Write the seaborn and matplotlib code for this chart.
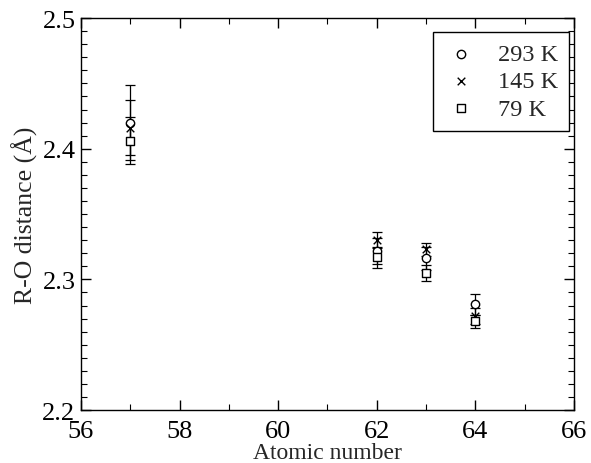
import numpy as np
import pandas as pd
import matplotlib
matplotlib.use("Agg")
import matplotlib.pyplot as plt
import seaborn as sns

# Data
atomic_number = [57, 62, 63, 64]
r_293 = [2.420, 2.322, 2.316, 2.281]
e_293 = [0.029, 0.010, 0.009, 0.008]
r_145 = [2.416, 2.330, 2.323, 2.272]
e_145 = [0.021, 0.006, 0.005, 0.006]
r_79 = [2.406, 2.317, 2.305, 2.268]
e_79 = [0.018, 0.008, 0.006, 0.005]
labels = ["293 K", "145 K", "79 K"]

sns.set_style("ticks")
plt.rcParams['font.family'] = ['Liberation Serif', 'DejaVu Serif']

rows = []
for lab, vals, errs in zip(labels, [r_293, r_145, r_79], [e_293, e_145, e_79]):
    for x, v, e in zip(atomic_number, vals, errs):
        rows.append({"Z": x, "R": v, "err": e, "T": lab})
df = pd.DataFrame(rows)

fig = plt.figure(figsize=(5.91, 4.64), dpi=100)
ax = fig.add_axes([0.137, 0.114, 0.834, 0.845])

for lab in labels:
    g = df[df["T"] == lab]
    ax.errorbar(g["Z"], g["R"], yerr=g["err"], fmt="none", ecolor="black",
                elinewidth=0.9, capsize=3.5, capthick=0.9, zorder=2)

markers = {"293 K": "o", "145 K": "x", "79 K": "s"}
for lab in labels:
    g = df[df["T"] == lab]
    m = markers[lab]
    if m == "x":
        sns.scatterplot(data=g, x="Z", y="R", marker="x", s=30, color="black",
                        linewidth=1.0, ax=ax, zorder=3, label=lab)
    else:
        sns.scatterplot(data=g, x="Z", y="R", marker=m, s=36, facecolor="white",
                        edgecolor="black", linewidth=1.0, ax=ax, zorder=3,
                        label=lab)

ax.set_xlim(56, 66)
ax.set_ylim(2.2, 2.5)
ax.set_xticks([56, 58, 60, 62, 64, 66])
ax.set_xticks(np.arange(56, 67, 1), minor=True)
ax.set_yticks([2.2, 2.3, 2.4, 2.5])
ax.set_yticklabels(["2.2", "2.3", "2.4", "2.5"])
ax.set_yticks(np.arange(2.2, 2.5001, 0.01), minor=True)
ax.tick_params(which="both", direction="in", top=True, right=True,
               labelsize=19, colors="black")
ax.tick_params(which="major", length=7, width=1)
ax.tick_params(which="minor", length=4, width=0.8)
ax.tick_params(axis="x", pad=7)
ax.tick_params(axis="y", pad=4)
for sp in ax.spines.values():
    sp.set_visible(True)
    sp.set_color("black")
    sp.set_linewidth(1.0)

ax.set_xlabel("Atomic number", fontsize=17, labelpad=0)
ax.set_ylabel("R-O distance (Å)", fontsize=18.5, labelpad=3)

handles, hl = ax.get_legend_handles_labels()
leg = ax.legend(handles=handles, labels=hl, loc="upper right",
                bbox_to_anchor=(0.99, 0.964), fontsize=17.5, frameon=True,
                fancybox=False, edgecolor="black", handletextpad=0.8,
                borderpad=0.45, labelspacing=0.22, handlelength=1.4,
                borderaxespad=0.0)
leg.get_frame().set_linewidth(1.0)
leg.get_frame().set_alpha(1)

fig.savefig("out.png", dpi=100)
